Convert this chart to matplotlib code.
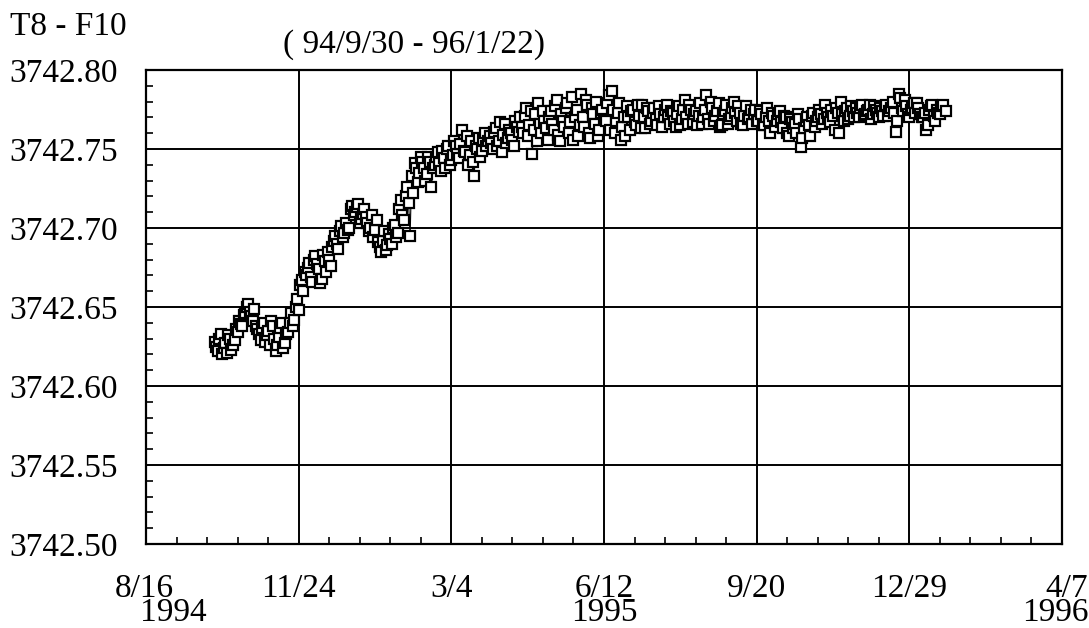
import numpy as np
import matplotlib
matplotlib.use("Agg")
import matplotlib.pyplot as plt
import matplotlib.dates as mdates
from matplotlib.ticker import FixedLocator, FormatStrFormatter, NullFormatter

# ---------------- data ----------------
title_left = "T8 - F10"
title_period = "( 94/9/30 - 96/1/22)"
start_date = "1994-09-30"
# readings, day offsets from start_date (batch A: even days)
days_a = [0, 2, 4, 6, 8, 10, 12, 14, 16, 18,
          20, 22, 24, 26, 28, 30, 32, 34, 36, 38,
          40, 42, 44, 46, 48, 50, 52, 54, 56, 58,
          60, 62, 64, 66, 68, 70, 72, 74, 76, 78,
          80, 82, 84, 86, 88, 90, 92, 94, 96, 98,
          100, 102, 104, 106, 108, 110, 112, 114, 116, 118,
          120, 122, 124, 126, 128, 130, 132, 134, 136, 138,
          140, 142, 144, 146, 148, 150, 152, 154, 156, 158,
          160, 162, 164, 166, 168, 170, 172, 174, 176, 178,
          180, 182, 184, 186, 188, 190, 192, 194, 196, 198,
          200, 202, 204, 206, 208, 210, 212, 214, 216, 218,
          220, 222, 224, 226, 228, 230, 232, 234, 236, 238,
          240, 242, 244, 246, 248, 250, 252, 254, 256, 258,
          260, 262, 264, 266, 268, 270, 272, 274, 276, 278,
          280, 282, 284, 286, 288, 290, 292, 294, 296, 298,
          300, 302, 304, 306, 308, 310, 312, 314, 316, 318,
          320, 322, 324, 326, 328, 330, 332, 334, 336, 338,
          340, 342, 344, 346, 348, 350, 352, 354, 356, 358,
          360, 362, 364, 366, 368, 370, 372, 374, 376, 378,
          380, 382, 384, 386, 388, 390, 392, 394, 396, 398,
          400, 402, 404, 406, 408, 410, 412, 414, 416, 418,
          420, 422, 424, 426, 428, 430, 432, 434, 436, 438,
          440, 442, 444, 446, 448, 450, 452, 454, 456, 458,
          460, 462, 464, 466, 468, 470, 472, 474, 476, 479]
values_a = [3742.628, 3742.622, 3742.633, 3742.624, 3742.621, 3742.630, 3742.626, 3742.636, 3742.641, 3742.638,
            3742.646, 3742.652, 3742.644, 3742.649, 3742.636, 3742.629, 3742.640, 3742.632, 3742.626, 3742.638,
            3742.622, 3742.631, 3742.640, 3742.627, 3742.634, 3742.646, 3742.642, 3742.655, 3742.664, 3742.660,
            3742.670, 3742.678, 3742.666, 3742.682, 3742.674, 3742.668, 3742.679, 3742.685, 3742.676, 3742.692,
            3742.690, 3742.698, 3742.694, 3742.703, 3742.700, 3742.714, 3742.710, 3742.715, 3742.706, 3742.712,
            3742.703, 3742.700, 3742.694, 3742.705, 3742.688, 3742.692, 3742.686, 3742.696, 3742.690, 3742.702,
            3742.697, 3742.718, 3742.705, 3742.726, 3742.695, 3742.722, 3742.738, 3742.735, 3742.742, 3742.730,
            3742.745, 3742.726, 3742.740, 3742.748, 3742.736, 3742.744, 3742.750, 3742.740, 3742.746, 3742.752,
            3742.744, 3742.762, 3742.748, 3742.740, 3742.755, 3742.733, 3742.750, 3742.745, 3742.756, 3742.752,
            3742.758, 3742.750, 3742.763, 3742.755, 3742.748, 3742.766, 3742.757, 3742.760, 3742.752, 3742.764,
            3742.770, 3742.760, 3742.776, 3742.765, 3742.747, 3742.772, 3742.779, 3742.760, 3742.768, 3742.756,
            3742.774, 3742.762, 3742.781, 3742.755, 3742.768, 3742.776, 3742.760, 3742.783, 3742.770, 3742.758,
            3742.785, 3742.764, 3742.778, 3742.757, 3742.772, 3742.780, 3742.762, 3742.775, 3742.768, 3742.784,
            3742.787, 3742.760, 3742.773, 3742.756, 3742.770, 3742.777, 3742.762, 3742.775, 3742.765, 3742.771,
            3742.778, 3742.763, 3742.774, 3742.768, 3742.776, 3742.765, 3742.772, 3742.770, 3742.778, 3742.766,
            3742.773, 3742.764, 3742.777, 3742.769, 3742.781, 3742.766, 3742.775, 3742.772, 3742.765, 3742.779,
            3742.770, 3742.784, 3742.766, 3742.776, 3742.771, 3742.779, 3742.765, 3742.774, 3742.766, 3742.771,
            3742.780, 3742.768, 3742.773, 3742.765, 3742.777, 3742.770, 3742.766, 3742.775, 3742.768, 3742.772,
            3742.765, 3742.776, 3742.760, 3742.771, 3742.768, 3742.774, 3742.763, 3742.770, 3742.758, 3742.767,
            3742.766, 3742.772, 3742.751, 3742.763, 3742.770, 3742.758, 3742.773, 3742.768, 3742.775, 3742.766,
            3742.778, 3742.770, 3742.775, 3742.762, 3742.773, 3742.780, 3742.768, 3742.776, 3742.771, 3742.774,
            3742.776, 3742.770, 3742.778, 3742.772, 3742.775, 3742.769, 3742.777, 3742.773, 3742.776, 3742.771,
            3742.778, 3742.774, 3742.780, 3742.761, 3742.785, 3742.776, 3742.781, 3742.772, 3742.775, 3742.779,
            3742.779, 3742.772, 3742.770, 3742.762, 3742.775, 3742.778, 3742.768, 3742.773, 3742.777, 3742.774]
# batch B: odd days
days_b = [1, 3, 5, 7, 9, 11, 13, 15, 17, 19,
          21, 23, 25, 27, 29, 31, 33, 35, 37, 39,
          41, 43, 45, 47, 49, 51, 53, 55, 57, 59,
          61, 63, 65, 67, 69, 71, 73, 75, 77, 79,
          81, 83, 85, 87, 89, 91, 93, 95, 97, 99,
          101, 103, 105, 107, 109, 111, 113, 115, 117, 119,
          121, 123, 125, 127, 129, 131, 133, 135, 137, 139,
          141, 143, 145, 147, 149, 151, 153, 155, 157, 159,
          161, 163, 165, 167, 169, 171, 173, 175, 177, 179,
          181, 183, 185, 187, 189, 191, 193, 195, 197, 199,
          201, 203, 205, 207, 209, 211, 213, 215, 217, 219,
          221, 223, 225, 227, 229, 231, 233, 235, 237, 239,
          241, 243, 245, 247, 249, 251, 253, 255, 257, 259,
          261, 263, 265, 267, 269, 271, 273, 275, 277, 279,
          281, 283, 285, 287, 289, 291, 293, 295, 297, 299,
          301, 303, 305, 307, 309, 311, 313, 315, 317, 319,
          321, 323, 325, 327, 329, 331, 333, 335, 337, 339,
          341, 343, 345, 347, 349, 351, 353, 355, 357, 359,
          361, 363, 365, 367, 369, 371, 373, 375, 377, 379,
          381, 383, 385, 387, 389, 391, 393, 395, 397, 399,
          401, 403, 405, 407, 409, 411, 413, 415, 417, 419,
          421, 423, 425, 427, 429, 431, 433, 435, 437, 439,
          441, 443, 445, 447, 449, 451, 453, 455, 457, 459,
          461, 463, 465, 467, 469, 471, 473, 475, 477]
values_b = [3742.625, 3742.630, 3742.620, 3742.627, 3742.632, 3742.623, 3742.629, 3742.634, 3742.639, 3742.645,
            3742.650, 3742.647, 3742.641, 3742.638, 3742.633, 3742.637, 3742.628, 3742.635, 3742.641, 3742.630,
            3742.626, 3742.637, 3742.624, 3742.633, 3742.640, 3742.638, 3742.650, 3742.648, 3742.667, 3742.672,
            3742.675, 3742.669, 3742.680, 3742.677, 3742.665, 3742.683, 3742.672, 3742.680, 3742.688, 3742.695,
            3742.687, 3742.701, 3742.697, 3742.699, 3742.712, 3742.708, 3742.713, 3742.703, 3742.709, 3742.707,
            3742.698, 3742.708, 3742.699, 3742.691, 3742.685, 3742.698, 3742.689, 3742.693, 3742.700, 3742.694,
            3742.712, 3742.708, 3742.720, 3742.716, 3742.733, 3742.741, 3742.729, 3742.745, 3742.738, 3742.734,
            3742.742, 3742.738, 3742.745, 3742.741, 3742.749, 3742.738, 3742.752, 3742.743, 3742.755, 3742.747,
            3742.753, 3742.749, 3742.758, 3742.746, 3742.742, 3742.752, 3742.757, 3742.749, 3742.760, 3742.755,
            3742.754, 3742.761, 3742.752, 3742.767, 3742.759, 3742.754, 3742.762, 3742.756, 3742.768, 3742.761,
            3742.764, 3742.771, 3742.758, 3742.774, 3742.762, 3742.755, 3742.766, 3742.774, 3742.763, 3742.770,
            3742.766, 3742.777, 3742.759, 3742.772, 3742.764, 3742.779, 3742.767, 3742.756, 3742.775, 3742.765,
            3742.770, 3742.781, 3742.760, 3742.776, 3742.766, 3742.758, 3742.773, 3742.769, 3742.779, 3742.762,
            3742.775, 3742.768, 3742.779, 3742.764, 3742.758, 3742.770, 3742.774, 3742.767, 3742.778, 3742.763,
            3742.770, 3742.776, 3742.766, 3742.773, 3742.769, 3742.777, 3742.764, 3742.775, 3742.770, 3742.774,
            3742.768, 3742.772, 3742.765, 3742.775, 3742.770, 3742.778, 3742.767, 3742.774, 3742.771, 3742.766,
            3742.775, 3742.769, 3742.780, 3742.768, 3742.774, 3742.764, 3742.772, 3742.778, 3742.769, 3742.776,
            3742.773, 3742.777, 3742.766, 3742.771, 3742.769, 3742.775, 3742.772, 3742.768, 3742.774, 3742.765,
            3742.770, 3742.768, 3742.773, 3742.764, 3742.772, 3742.767, 3742.771, 3742.760, 3742.769, 3742.763,
            3742.760, 3742.769, 3742.757, 3742.768, 3742.765, 3742.771, 3742.764, 3742.770, 3742.772, 3742.769,
            3742.773, 3742.767, 3742.771, 3742.776, 3742.760, 3742.772, 3742.774, 3742.769, 3742.777, 3742.770,
            3742.773, 3742.776, 3742.771, 3742.774, 3742.778, 3742.772, 3742.775, 3742.770, 3742.774, 3742.777,
            3742.771, 3742.776, 3742.773, 3742.768, 3742.782, 3742.774, 3742.777, 3742.770, 3742.776, 3742.773,
            3742.776, 3742.770, 3742.773, 3742.765, 3742.777, 3742.771, 3742.775, 3742.772, 3742.778]

x_start = "1994-08-16"
x_end = "1996-04-07"
x_tick_step_days = 100
x_minor_step_days = 20
x_tick_labels = ["8/16\n   1994", "11/24", "3/4", "6/12\n1995", "9/20", "12/29", "4/7\n1996"]
y_min, y_max, y_step, y_minor = 3742.50, 3742.80, 0.05, 0.01

# ---------------- plot ----------------
plt.rcParams['font.family'] = ['Liberation Serif', 'DejaVu Serif']
fig = plt.figure(figsize=(10.89, 6.28), dpi=100)
ax = fig.add_axes([146 / 1089, 1 - 544 / 628, (1062 - 146) / 1089, (544 - 70) / 628])

all_days = np.array(days_a + days_b)
all_vals = np.array(values_a + values_b)
order = np.argsort(all_days, kind='stable')
dates = np.datetime64(start_date) + all_days[order].astype('timedelta64[D]')
xd = mdates.date2num(dates.astype('datetime64[D]').astype(object))
ax.plot(xd, all_vals[order], color='black', lw=0.8, marker='s', markersize=7.8,
        markerfacecolor='white', markeredgecolor='black', markeredgewidth=1.6, zorder=3)

x0 = mdates.date2num(np.datetime64(x_start).astype(object))
x1 = mdates.date2num(np.datetime64(x_end).astype(object))
ax.set_xlim(x0, x1)
ax.set_ylim(y_min, y_max)

major_x = np.arange(x0, x1 + 1, x_tick_step_days)
minor_x = np.arange(x0, x1 + 1, x_minor_step_days)
ax.xaxis.set_major_locator(FixedLocator(major_x))
ax.xaxis.set_minor_locator(FixedLocator(minor_x))
ax.xaxis.set_major_formatter(NullFormatter())
ax.xaxis.set_minor_formatter(NullFormatter())

major_y = np.arange(y_min, y_max + 1e-9, y_step)
minor_y = np.arange(y_min, y_max + 1e-9, y_minor)
ax.yaxis.set_major_locator(FixedLocator(major_y))
ax.yaxis.set_minor_locator(FixedLocator(minor_y))
ax.yaxis.set_major_formatter(FormatStrFormatter('%.2f'))

ax.tick_params(axis='both', which='major', length=0)
ax.tick_params(axis='y', which='major', labelsize=24, pad=20)
ax.tick_params(axis='both', which='minor', direction='in', length=5, width=1.2,
               top=False, right=False)

for v in major_y[1:-1]:
    ax.axhline(v, color='black', lw=1.4, zorder=1)
for v in major_x[1:-1]:
    ax.axvline(v, color='black', lw=1.4, zorder=1)
for s in ax.spines.values():
    s.set_linewidth(1.6)

# x labels (date, with year on a second line where shown)
n = len(major_x)
for i, (xv, lab) in enumerate(zip(major_x, x_tick_labels)):
    if i == 0:
        ha, ma, dx = 'left', 'left', -22.5
    elif i == n - 1:
        ha, ma, dx = 'right', 'right', 19
    else:
        ha, ma, dx = 'center', 'center', 0
    ax.annotate(lab, xy=(xv, 0), xycoords=('data', 'axes fraction'),
                xytext=(dx, -21), textcoords='offset points',
                ha=ha, va='top', ma=ma, fontsize=24, linespacing=0.75)

fig.text(10 / 1089, 1 - 35 / 628, title_left, fontsize=24, ha='left', va='baseline')
fig.text(283 / 1089, 1 - 53 / 628, title_period, fontsize=24, ha='left', va='baseline')

fig.savefig("out.png", dpi=100)
